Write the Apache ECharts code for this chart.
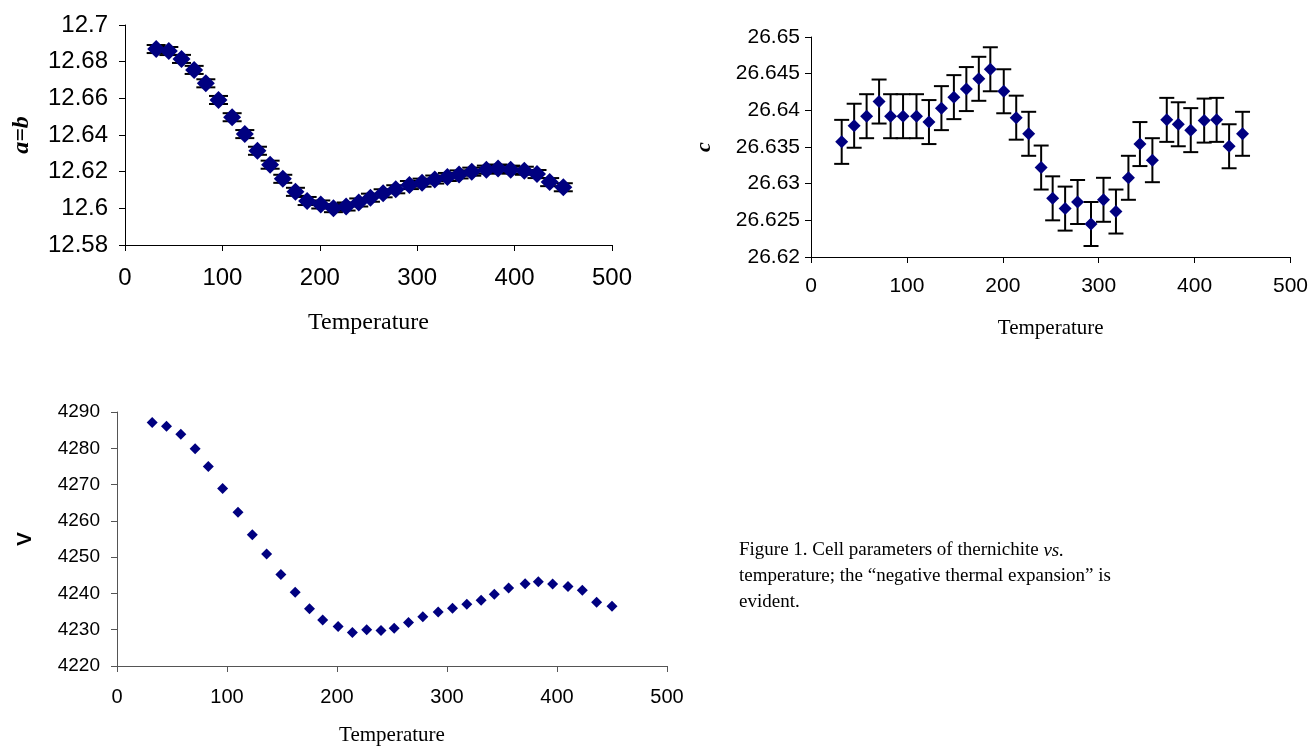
<!DOCTYPE html>
<html>
<head>
<meta charset="utf-8">
<title>Cell parameters of thernichite</title>
<script src="https://cdn.jsdelivr.net/npm/echarts@6/dist/echarts.min.js"></script>
<style>
  html, body { margin: 0; padding: 0; background: #fff; }
  #main { width: 1311px; height: 749px; }
</style>
</head>
<body>
<div id="main"></div>
<script>
// temperatures
const temps = [32, 45, 58, 71, 83, 96, 110, 123, 136, 149, 162, 175, 187, 201, 214, 227, 240,
  252, 265, 278, 292, 305, 318, 331, 343, 356, 371, 383, 396, 410, 423, 436, 450];

// a=b
const aVals = [12.6869, 12.6858, 12.6815, 12.6755, 12.6682, 12.6591, 12.6497, 12.6405, 12.6314,
  12.6238, 12.6161, 12.6090, 12.6040, 12.6021, 12.6001, 12.6010, 12.6032, 12.6058, 12.6082,
  12.6104, 12.6127, 12.6140, 12.6157, 12.6171, 12.6185, 12.6200, 12.6211, 12.6217, 12.6211,
  12.6205, 12.6187, 12.6143, 12.6115];
const aErr = 0.0022;

// c
const cVals = [26.6357, 26.6379, 26.6392, 26.6412, 26.6392, 26.6392, 26.6392, 26.6384, 26.6403,
  26.6418, 26.6429, 26.6443, 26.6456, 26.6426, 26.6390, 26.6368, 26.6322, 26.6280, 26.6266,
  26.6275, 26.6245, 26.6278, 26.6262, 26.6308, 26.6354, 26.6332, 26.6387, 26.6381, 26.6373,
  26.6386, 26.6387, 26.6351, 26.6368];
const cErr = 0.003;

// V
const vVals = [4287.1, 4286.1, 4283.9, 4279.9, 4275.0, 4268.9, 4262.4, 4256.2, 4250.9, 4245.2,
  4240.3, 4235.8, 4232.7, 4230.9, 4229.2, 4230.0, 4229.8, 4230.4, 4232.0, 4233.6, 4234.9,
  4235.9, 4237.0, 4238.1, 4239.8, 4241.5, 4242.7, 4243.2, 4242.6, 4241.9, 4240.9, 4237.6, 4236.5];

const xTicks = [0, 100, 200, 300, 400, 500];

const navy = "#000080";
const sans = "Liberation Sans, Arial, sans-serif";
const serif = "Liberation Serif, Times New Roman, serif";

function pairs(vals) {
  return temps.map((t, i) => [t, vals[i]]);
}
function withErr(vals, err) {
  return temps.map((t, i) => [t, vals[i], err]);
}

// vertical error bar with caps
function errBar(capW) {
  return function (params, api) {
    const x = api.value(0);
    const y = api.value(1);
    const e = api.value(2);
    const hi = api.coord([x, y + e]);
    const lo = api.coord([x, y - e]);
    const st = { stroke: "#000", lineWidth: 2 };
    return {
      type: "group",
      children: [
        { type: "line", shape: { x1: hi[0], y1: hi[1], x2: lo[0], y2: lo[1] }, style: st },
        { type: "line", shape: { x1: hi[0] - capW / 2, y1: hi[1], x2: hi[0] + capW / 2, y2: hi[1] }, style: st },
        { type: "line", shape: { x1: lo[0] - capW / 2, y1: lo[1], x2: lo[0] + capW / 2, y2: lo[1] }, style: st }
      ]
    };
  };
}

function xAxisOf(grid, fs, gap, lineColor) {
  return {
    gridIndex: grid,
    type: "value",
    min: xTicks[0],
    max: xTicks[xTicks.length - 1],
    interval: xTicks[1] - xTicks[0],
    name: "Temperature",
    nameLocation: "middle",
    nameGap: gap,
    nameTextStyle: { fontFamily: serif, fontSize: fs, color: "#000" },
    splitLine: { show: false },
    axisLine: { show: true, onZero: false, lineStyle: { color: lineColor, width: 1 } },
    axisTick: { show: true, length: 6, lineStyle: { color: lineColor } },
    axisLabel: { fontFamily: sans, color: "#000" }
  };
}

function yAxisOf(grid, min, max, step, dec, lineColor) {
  return {
    gridIndex: grid,
    type: "value",
    min: min,
    max: max,
    interval: step,
    nameLocation: "middle",
    nameRotate: 90,
    splitLine: { show: false },
    axisLine: { show: true, onZero: false, lineStyle: { color: lineColor, width: 1 } },
    axisTick: { show: true, length: 6, lineStyle: { color: lineColor } },
    axisLabel: {
      fontFamily: sans,
      color: "#000",
      formatter: v => String(+v.toFixed(dec))
    }
  };
}

const chart = echarts.init(document.getElementById("main"));

let xa = xAxisOf(0, 24, 66, "#000");
xa.axisLabel.fontSize = 24; xa.axisLabel.margin = 21;
let xc = xAxisOf(1, 21, 61, "#000");
xc.axisLabel.fontSize = 21; xc.axisLabel.margin = 19;
let xv = xAxisOf(2, 21, 59, "#555");
xv.axisLabel.fontSize = 20; xv.axisLabel.margin = 21;

let ya = yAxisOf(0, 12.58, 12.7, 0.02, 3, "#000");
ya.name = "a=b"; ya.nameGap = 91;
ya.nameTextStyle = { fontFamily: serif, fontSize: 24, fontStyle: "italic", fontWeight: "bold", color: "#000" };
ya.axisLabel.fontSize = 24; ya.axisLabel.margin = 17;

let yc = yAxisOf(1, 26.62, 26.65, 0.005, 4, "#000");
yc.name = "c"; yc.nameGap = 96;
yc.nameTextStyle = { fontFamily: serif, fontSize: 22, fontStyle: "italic", fontWeight: "bold", color: "#000" };
yc.axisLabel.fontSize = 21; yc.axisLabel.margin = 11;

let yv = yAxisOf(2, 4220, 4290, 10, 0, "#555");
yv.name = "V"; yv.nameGap = 81;
yv.nameTextStyle = { fontFamily: sans, fontSize: 21, fontWeight: "bold", color: "#000" };
yv.axisLabel.fontSize = 19; yv.axisLabel.margin = 17;

const option = {
  animation: false,
  backgroundColor: "#fff",
  grid: [
    { left: 125, top: 25, width: 487, height: 220 },
    { left: 811, top: 37, width: 481, height: 220 },
    { left: 117, top: 412, width: 550, height: 254 }
  ],
  xAxis: [xa, xc, xv],
  yAxis: [ya, yc, yv],
  series: [
    {
      type: "custom", xAxisIndex: 0, yAxisIndex: 0, z: 1,
      renderItem: errBar(19), data: withErr(aVals, aErr)
    },
    {
      type: "scatter", xAxisIndex: 0, yAxisIndex: 0, z: 2,
      symbol: "diamond", symbolSize: 18,
      itemStyle: { color: navy, opacity: 1 }, data: pairs(aVals)
    },
    {
      type: "custom", xAxisIndex: 1, yAxisIndex: 1, z: 1,
      renderItem: errBar(15), data: withErr(cVals, cErr)
    },
    {
      type: "scatter", xAxisIndex: 1, yAxisIndex: 1, z: 2,
      symbol: "diamond", symbolSize: 13,
      itemStyle: { color: navy, opacity: 1 }, data: pairs(cVals)
    },
    {
      type: "scatter", xAxisIndex: 2, yAxisIndex: 2, z: 2,
      symbol: "diamond", symbolSize: 11,
      itemStyle: { color: navy, opacity: 1 }, data: pairs(vVals)
    }
  ],
  graphic: [
    {
      type: "text",
      left: 739,
      top: 541,
      style: {
        text: "{r|Figure 1. Cell parameters of thernichite }{i|vs.}\n" +
          "{r|temperature; the \u201cnegative thermal expansion\u201d is}\n{r|evident.}",
        rich: {
          r: { fontFamily: serif, fontSize: 19, lineHeight: 26, fill: "#000" },
          i: { fontFamily: serif, fontSize: 19, lineHeight: 26, fontStyle: "italic", fill: "#000" }
        }
      }
    }
  ]
};

chart.setOption(option);
</script>
</body>
</html>
